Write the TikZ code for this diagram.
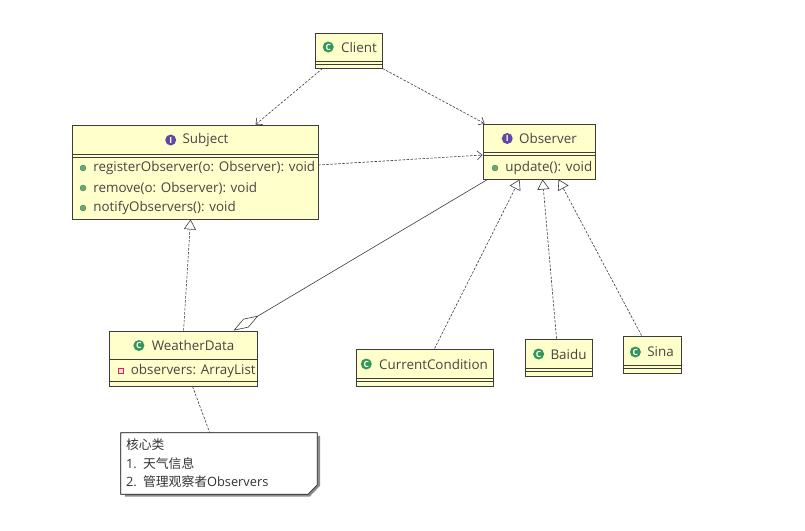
\documentclass[tikz,border=0pt]{standalone}
\usepackage{fontspec}
\setmainfont{Open Sans}
\newfontfamily\cjk{Noto Sans CJK SC}
\usetikzlibrary{arrows.meta,positioning}

\definecolor{classfill}{RGB}{255,255,204}
\definecolor{classline}{RGB}{60,60,60}
\definecolor{classtext}{RGB}{72,68,68}
\definecolor{cgreen}{RGB}{52,150,88}
\definecolor{ipurple}{RGB}{98,72,162}
\definecolor{dotgreen}{RGB}{104,168,120}
\definecolor{privred}{RGB}{214,40,70}

\tikzset{
  classbox/.style={draw=classline,fill=classfill,line width=0.9pt,inner sep=0pt},
  classname/.style={text=classtext,font=\fontsize{13.4}{15}\selectfont,inner sep=0pt},
  member/.style={classname,anchor=west},
  cicon/.style={circle,fill=cgreen,text=white,font=\fontsize{8.5}{8.5}\selectfont\bfseries,inner sep=0pt,minimum size=11pt},
  iicon/.style={cicon,fill=ipurple},
  opdot/.style={circle,fill=dotgreen,draw=dotgreen!70!black,line width=0.3pt,inner sep=0pt,minimum size=6pt},
  privbox/.style={rectangle,draw=privred,fill=privred!15,line width=0.8pt,inner sep=0pt,minimum size=4.5pt},
  divider/.style={draw=classline,line width=0.9pt},
  dep/.style={draw=classline,line width=0.6pt,dash pattern=on 2.5pt off 1.5pt,-{Straight Barb[length=5pt,width=9pt]}},
  realize/.style={draw=classline,line width=0.6pt,dash pattern=on 2.5pt off 1.5pt,-{Triangle[open,length=10pt,width=12pt,fill=white]}},
  aggr/.style={draw=classline,line width=0.6pt,{Diamond[open,length=29pt,width=10pt,fill=white]}-},
  notelink/.style={draw=classline,line width=0.6pt,dash pattern=on 2.5pt off 1.5pt},
  notebox/.style={text width=186pt,minimum height=61pt,align=left,inner xsep=5pt,inner ysep=0pt,
    text=black!80,font=\fontsize{12.8}{18.5}\selectfont}
}

\begin{document}
\begin{tikzpicture}[x=1pt,y=-1pt]
\useasboundingbox[fill=white] (0,0) rectangle (805,530);

% class boxes
\node[classbox,minimum width=67pt,minimum height=35pt] (client) at (348.5,50.5) {};
\node[classbox,minimum width=246pt,minimum height=94pt] (subject) at (195,172) {};
\node[classbox,minimum width=112pt,minimum height=55pt] (observer) at (539,151.5) {};
\node[classbox,minimum width=148pt,minimum height=55pt] (weather) at (183,358.5) {};
\node[classbox,minimum width=137pt,minimum height=37pt] (current) at (424.5,367.5) {};
\node[classbox,minimum width=67pt,minimum height=37pt] (baidu) at (558.5,357.5) {};
\node[classbox,minimum width=58pt,minimum height=37pt] (sina) at (652,354.5) {};

% compartments
\foreach \c/\a/\b in {client/29/32,subject/30/33,observer/29/32,current/30/33,baidu/30/33,sina/30/33,weather/29/51} {
  \draw[divider] ([yshift=-\a pt]\c.north west) -- ([yshift=-\a pt]\c.north east);
  \draw[divider] ([yshift=-\b pt]\c.north west) -- ([yshift=-\b pt]\c.north east);
}

% class names
\node[classname] (clientname) at (359,47) {Client};
\node[cicon,left=7pt of clientname] (clienticon) {C};
\node[classname] (subjectname) at (205.5,140) {Subject};
\node[iicon,left=6pt of subjectname] (subjecticon) {I};
\node[classname] (observername) at (548,138.5) {Observer};
\node[iicon,left=6pt of observername] (observericon) {I};
\node[classname] (weathername) at (193,345.5) {WeatherData};
\node[cicon,left=7pt of weathername] (weathericon) {C};
\node[classname] (currentname) at (433.5,364) {CurrentCondition};
\node[cicon,left=7pt of currentname] (currenticon) {C};
\node[classname] (baiduname) at (568.5,354) {Baidu};
\node[cicon,left=6pt of baiduname] (baiduicon) {C};
\node[classname] (sinaname) at (660.5,352) {Sina};
\node[cicon,left=6pt of sinaname] (sinaicon) {C};

% members
\node[opdot] (regdot) at (83,168) {};
\node[member,right=7pt of regdot] (regop) {registerObserver(o: Observer): void};
\node[opdot] (remdot) at (83,188) {};
\node[member,right=7pt of remdot] (remop) {remove(o: Observer): void};
\node[opdot] (notdot) at (83,208) {};
\node[member,right=7pt of notdot] (notop) {notifyObservers(): void};
\node[opdot] (upddot) at (495,168) {};
\node[member,right=7pt of upddot] (updop) {update(): void};
\node[privbox] (obsbox) at (121,371) {};
\node[member,right=7pt of obsbox] (obsattr) {observers: ArrayList};

% note
\node[notebox] (note) at (219,463.5) {{\cjk 核心类}\\1. {\cjk 天气信息}\\2. {\cjk 管理观察者}Observers};
\draw[black!45,line width=2pt] ([xshift=2pt,yshift=-3pt]note.north east) -- ([xshift=2pt,yshift=9pt]note.south east)
  -- ([xshift=-8pt,yshift=-1.5pt]note.south east) -- ([xshift=4pt,yshift=-1.5pt]note.south west);
\draw[black,line width=0.8pt] (note.north west) -- (note.north east) -- ([yshift=9pt]note.south east)
  -- ([xshift=-9pt]note.south east) -- (note.south west) -- cycle;

% connectors
\draw[dep] ([xshift=8pt]client.south west) -- ([xshift=184pt]subject.north west);
\draw[dep] (client.south east) -- ([xshift=2pt]observer.north west);
\draw[dep] ([yshift=7pt]subject.east) -- ([yshift=-3.5pt]observer.west);
\draw[realize] ([xshift=75pt]weather.north west) -- ([xshift=119pt]subject.south west);
\draw[aggr] ([xshift=-24pt]weather.north east) -- ([xshift=5pt]observer.south west);
\draw[realize] ([xshift=79pt]current.north west) -- ([xshift=37pt]observer.south west);
\draw[realize] ([xshift=32pt]baidu.north west) -- ([xshift=60pt]observer.south west);
\draw[realize] ([xshift=19pt]sina.north west) -- ([xshift=76pt]observer.south west);
\draw[notelink] ([xshift=84pt]weather.south west) -- ([xshift=89pt]note.north west);
\end{tikzpicture}
\end{document}
